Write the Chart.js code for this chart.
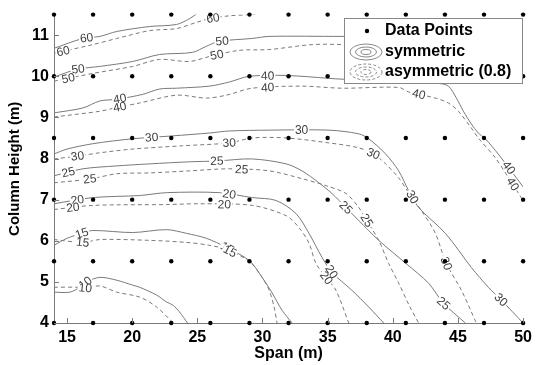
<!DOCTYPE html>
<html>
<head>
<meta charset="utf-8">
<script src="https://cdn.jsdelivr.net/npm/chart.js@4.4.0/dist/chart.umd.min.js"></script>
<style>
html, body { margin: 0; padding: 0; background: #fff; }
</style>
</head>
<body>
<canvas id="myChart" width="537" height="365"></canvas>
<script>
// grid of data points
const gridX = [14, 17, 20, 23, 26, 29, 32, 35, 38, 41, 44, 47, 50];
const gridY = [4, 5.5, 7, 8.5, 10, 11.5];
const spanTicks = [15, 20, 25, 30, 35, 40, 45, 50];
const heightTicks = [4, 5, 6, 7, 8, 9, 10, 11];
const legendLabels = ['Data Points', 'symmetric', 'asymmetric (0.8)'];

// contour lines [span, height]
const sym60 = [[14,10.68],[16.22,10.92],[17.52,10.97],[18.82,11.09],[21.34,11.21],[23.4,11.26],[24.4,11.4],[24.95,11.52]];
const asym60 = [[14,10.56],[16.98,10.77],[18.82,10.92],[21.34,11.11],[23.4,11.16],[24.93,11.31],[25.92,11.4],[27.45,11.47],[29,11.5],[29.5,11.52]];
const sym50 = [[14,9.98],[15.76,10.17],[17.52,10.24],[20.04,10.36],[22.1,10.53],[24.62,10.58],[25.69,10.73],[26.69,10.85],[29.21,10.92],[30.51,10.97],[36.09,10.97],[42,10.98],[50,11.02]];
const asym50 = [[14,9.88],[16.98,10.07],[20.04,10.24],[22.1,10.41],[24.4,10.36],[25.92,10.48],[28.2,10.63],[30.51,10.65],[33.8,10.77],[36.09,10.77],[43.5,10.65],[50,10.34]];
const sym40 = [[14,9.11],[16.22,9.23],[17.52,9.4],[18.82,9.44],[20.8,9.56],[22.1,9.69],[23.4,9.71],[25.92,9.76],[27.45,9.86],[28.98,10],[31.81,10.02],[35.1,9.95],[36.09,9.93],[42,9.88],[43.5,9.83],[44.27,9.76],[44.88,9.47],[45.42,9.15],[46.03,8.84],[46.56,8.62],[47.1,8.48],[48.09,8.11],[49.08,7.7],[50,7.31]];
const asym40 = [[14,9.01],[17.52,9.15],[18.66,9.23],[20.57,9.35],[23.4,9.54],[25.69,9.47],[27.22,9.54],[29.21,9.71],[33.03,9.76],[36.09,9.71],[40.45,9.73],[41.21,9.62],[43.27,9.47],[44.27,9.35],[45.03,9.15],[46.03,8.74],[46.56,8.5],[47.86,8.02],[48.85,7.55],[49.85,7.05],[50,6.98]];
const sym30 = [[14,8.11],[15,8.23],[16.98,8.36],[20.04,8.48],[23.1,8.55],[25.92,8.62],[27.45,8.67],[30.51,8.69],[35.1,8.69],[37.39,8.6],[38.15,8.48],[39.45,8.11],[40.45,7.7],[41.21,7.22],[41.98,6.81],[44.04,6.18],[46.03,5.35],[47.33,4.87],[48.32,4.56],[50,4]];
const asym30 = [[14,7.99],[15.83,8.06],[17.52,8.14],[20.04,8.23],[23.86,8.31],[27.45,8.38],[29.21,8.5],[31.81,8.5],[35.1,8.38],[37.39,8.26],[38.54,8.11],[39.45,7.87],[40.45,7.53],[41.21,7.17],[42.2,6.73],[43.27,6.18],[44.1,5.45],[45.26,4.8],[46.41,4]];
const sym25 = [[14,7.58],[16.22,7.75],[18.82,7.82],[21.34,7.87],[24.4,7.92],[26.5,7.94],[29.21,7.99],[31.81,7.87],[33.03,7.7],[34.33,7.41],[35.33,7.15],[36.4,6.81],[37.39,6.49],[38.92,6.01],[41,5.45],[42.74,4.97],[43.89,4.48],[45.57,4]];
const asym25 = [[14,7.41],[16.75,7.5],[18.82,7.63],[21.34,7.65],[24.4,7.7],[27.45,7.75],[30.51,7.7],[33.03,7.51],[34.87,7.34],[36.4,7.15],[37.39,6.81],[38,6.49],[38.92,6.01],[39.68,5.45],[40.45,4.97],[41.3,4.4],[41.98,4]];
const sym20 = [[14,6.9],[16.98,7.05],[20.57,7.1],[22.64,7.17],[26.69,7.17],[29.21,7.05],[31.04,6.98],[32.57,6.66],[33.57,6.18],[34.56,5.6],[35.33,5.23],[36.85,4.8],[38.15,4.39],[39.3,4]];
const asym20 = [[14,6.76],[16.98,6.86],[22.64,6.88],[25.16,6.9],[29.21,6.86],[31.81,6.61],[32.8,6.32],[33.57,5.94],[34.1,5.45],[34.87,5.11],[35.63,4.8],[36.62,4]];
const sym15 = [[14,5.89],[15,6.06],[16.14,6.18],[16.98,6.25],[20.04,6.2],[22.64,6.27],[24.17,6.18],[25.69,6.06],[27.22,5.84],[28.98,5.52],[29.97,5.11],[30.74,4.73],[31.5,4.31],[32.27,4]];
const asym15 = [[14,6.03],[16.22,5.96],[17.52,6.03],[21.34,6.01],[24.17,5.96],[25.92,5.89],[27.22,5.79],[28.98,5.5],[29.97,5.11],[30.51,4.8],[30.89,4.39],[31.12,4]];
const sym10 = [[14,4.75],[15.22,4.75],[15.99,4.87],[16.5,5.0],[17.52,5.11],[18.82,5.04],[20.04,4.92],[20.57,4.87],[21.87,4.68],[22.64,4.51],[23.1,4.44],[23.63,4.27],[24.24,4]];
const asym10 = [[14,4.87],[15.76,4.87],[16.4,4.85],[17.52,4.9],[18.82,4.75],[20.57,4.63],[21.87,4.39],[23.15,4]];

// where the contour labels sit (span value along each line)
const sym60Lab = [16.5];
const asym60Lab = [14.7, 26.2];
const sym50Lab = [15.85, 26.9];
const asym50Lab = [15.1, 26.5];
const sym40Lab = [19.05, 30.4, 48.9];
const asym40Lab = [19.05, 30.4, 42.0, 49.2];
const sym30Lab = [21.5, 33.0, 41.5, 48.3];
const asym30Lab = [15.8, 27.45, 38.5, 44.1];
const sym25Lab = [15.1, 26.5, 36.4, 43.9];
const asym25Lab = [16.75, 28.4, 38.0];
const sym20Lab = [15.8, 27.45, 35.3];
const asym20Lab = [15.45, 27.07, 34.9];
const sym15Lab = [16.14, 27.3];
const asym15Lab = [16.2, 27.5];
const sym10Lab = [16.4];
const asym10Lab = [16.4];

const contours = [
  { lvl: '60', line: sym60, dash: false, labels: sym60Lab },
  { lvl: '60', line: asym60, dash: true, labels: asym60Lab },
  { lvl: '50', line: sym50, dash: false, labels: sym50Lab },
  { lvl: '50', line: asym50, dash: true, labels: asym50Lab },
  { lvl: '40', line: sym40, dash: false, labels: sym40Lab },
  { lvl: '40', line: asym40, dash: true, labels: asym40Lab },
  { lvl: '30', line: sym30, dash: false, labels: sym30Lab },
  { lvl: '30', line: asym30, dash: true, labels: asym30Lab },
  { lvl: '25', line: sym25, dash: false, labels: sym25Lab },
  { lvl: '25', line: asym25, dash: true, labels: asym25Lab },
  { lvl: '20', line: sym20, dash: false, labels: sym20Lab },
  { lvl: '20', line: asym20, dash: true, labels: asym20Lab },
  { lvl: '15', line: sym15, dash: false, labels: sym15Lab },
  { lvl: '15', line: asym15, dash: true, labels: asym15Lab },
  { lvl: '10', line: sym10, dash: false, labels: sym10Lab },
  { lvl: '10', line: asym10, dash: true, labels: asym10Lab }
];

const LINE_GREY = '#7a7a7a';

const dataPts = [];
gridY.forEach(y => gridX.forEach(x => dataPts.push({ x: x, y: y })));

const datasets = [{
  label: legendLabels[0],
  data: dataPts,
  showLine: false,
  clip: false,
  pointRadius: 2.2,
  pointBackgroundColor: '#000',
  pointBorderWidth: 0
}];
contours.forEach(c => {
  datasets.push({
    label: c.lvl,
    data: c.line.map(p => ({ x: p[0], y: p[1] })),
    showLine: true,
    pointRadius: 0,
    borderColor: LINE_GREY,
    borderWidth: 1,
    borderDash: c.dash ? [4, 3] : [],
    tension: 0.3,
    fill: false
  });
});

// contour labels, drawn just before the data points
const labelPlugin = {
  id: 'clabels',
  beforeDatasetDraw(chart, args) {
    if (args.index !== 0) return;
    const ctx = chart.ctx;
    ctx.save();
    ctx.font = '12px "Liberation Sans", Arial, sans-serif';
    ctx.textAlign = 'center';
    ctx.textBaseline = 'middle';
    contours.forEach((c, k) => {
      const pts = chart.getDatasetMeta(k + 1).data;
      c.labels.forEach(lx => {
        const px = chart.scales.x.getPixelForValue(lx);
        for (let j = 0; j < pts.length - 1; j++) {
          const a = pts[j], b = pts[j + 1];
          if (px >= a.x && px <= b.x) {
            const t = (px - a.x) / ((b.x - a.x) || 1);
            const py = a.y + t * (b.y - a.y);
            const ang = Math.atan2(b.y - a.y, b.x - a.x);
            const w = ctx.measureText(c.lvl).width;
            ctx.save();
            ctx.translate(px, py);
            ctx.rotate(ang);
            ctx.fillStyle = '#fff';
            ctx.fillRect(-w / 2 - 1, -4, w + 2, 8);
            ctx.fillStyle = '#404040';
            ctx.fillText(c.lvl, 0, 0.5);
            ctx.restore();
            break;
          }
        }
      });
    });
    ctx.restore();
  }
};

// inward tick marks
const tickPlugin = {
  id: 'inticks',
  afterDatasetsDraw(chart) {
    const ctx = chart.ctx;
    const xs = chart.scales.x, ys = chart.scales.y;
    const area = chart.chartArea;
    ctx.save();
    ctx.strokeStyle = LINE_GREY;
    ctx.lineWidth = 1;
    ctx.beginPath();
    spanTicks.forEach(v => {
      const p = Math.round(xs.getPixelForValue(v)) + 0.5;
      ctx.moveTo(p, area.bottom);
      ctx.lineTo(p, area.bottom - 5);
    });
    heightTicks.forEach(v => {
      const p = Math.round(ys.getPixelForValue(v)) + 0.5;
      ctx.moveTo(area.left, p);
      ctx.lineTo(area.left + 5, p);
    });
    ctx.stroke();
    ctx.restore();
  }
};

function ellipses(ctx, cx, cy, dashed) {
  ctx.save();
  ctx.strokeStyle = '#8a8a8a';
  ctx.lineWidth = 1;
  ctx.setLineDash(dashed ? [3, 2] : []);
  [[16, 8], [10.5, 5], [5, 2.5]].forEach(r => {
    ctx.beginPath();
    ctx.ellipse(cx, cy, r[0], r[1], 0, 0, Math.PI * 2);
    ctx.stroke();
  });
  ctx.restore();
}

const legendPlugin = {
  id: 'box',
  afterDraw(chart) {
    const ctx = chart.ctx;
    ctx.save();
    ctx.fillStyle = '#fff';
    ctx.fillRect(344, 18, 178, 65);
    ctx.strokeStyle = '#888';
    ctx.lineWidth = 1;
    ctx.strokeRect(344.5, 18.5, 178, 65);
    ctx.fillStyle = '#000';
    ctx.beginPath();
    ctx.arc(367, 31, 2.2, 0, Math.PI * 2);
    ctx.fill();
    ellipses(ctx, 366, 52, false);
    ellipses(ctx, 366, 72, true);
    ctx.font = 'bold 16px "Liberation Sans", Arial, sans-serif';
    ctx.textBaseline = 'middle';
    ctx.fillText(legendLabels[0], 385, 31);
    ctx.fillText(legendLabels[1], 385, 52);
    ctx.fillText(legendLabels[2], 385, 72);
    ctx.restore();
  }
};

const ctx = document.getElementById('myChart');

new Chart(ctx, {
  type: 'scatter',
  data: { datasets: datasets },
  options: {
    responsive: false,
    animation: false,
    events: [],
    layout: { padding: { left: 0, right: 12, top: 13, bottom: 0 } },
    plugins: {
      legend: { display: false },
      tooltip: { enabled: false }
    },
    scales: {
      x: {
        type: 'linear',
        min: 14,
        max: 50,
        afterFit: s => { s.height = 42; },
        grid: { display: false, drawTicks: false },
        border: { display: true, color: LINE_GREY, width: 1 },
        ticks: {
          stepSize: 5,
          includeBounds: false,
          autoSkip: false,
          maxRotation: 0,
          padding: 5,
          color: '#000',
          font: { family: '"Liberation Sans", Arial, sans-serif', size: 16, weight: 'bold' },
          callback: v => spanTicks.includes(v) ? v : ''
        },
        title: {
          display: true,
          text: 'Span (m)',
          color: '#000',
          padding: { top: 0, bottom: 2 },
          font: { family: '"Liberation Sans", Arial, sans-serif', size: 16, weight: 'bold' }
        }
      },
      y: {
        type: 'linear',
        min: 4,
        max: 11.5,
        afterFit: s => { s.width = 54; },
        grid: { display: false, drawTicks: false },
        border: { display: true, color: LINE_GREY, width: 1 },
        ticks: {
          stepSize: 1,
          includeBounds: false,
          autoSkip: false,
          padding: 5,
          color: '#000',
          font: { family: '"Liberation Sans", Arial, sans-serif', size: 16, weight: 'bold' },
          callback: v => heightTicks.includes(v) ? v : ''
        },
        title: {
          display: true,
          text: 'Column Height (m)',
          color: '#000',
          padding: { top: 6, bottom: 0 },
          font: { family: '"Liberation Sans", Arial, sans-serif', size: 15, weight: 'bold' }
        }
      }
    }
  },
  plugins: [labelPlugin, tickPlugin, legendPlugin]
});
</script>
</body>
</html>
